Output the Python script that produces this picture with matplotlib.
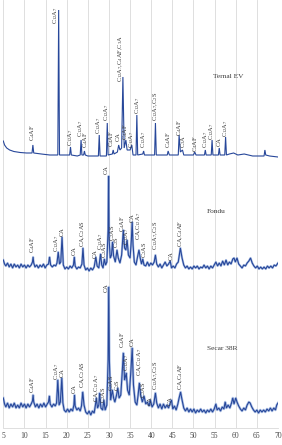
import matplotlib
matplotlib.use("Agg")
import matplotlib.pyplot as plt

plt.rcParams['font.family'] = ['Liberation Serif', 'DejaVu Serif']
plt.rcParams['mathtext.fontset'] = 'custom'
plt.rcParams['mathtext.rm'] = 'Liberation Serif'
plt.rcParams['mathtext.it'] = 'Liberation Serif:italic'

# ---- data: 2-theta (deg) and stacked signal depth (plot units, top = 0) ----
ternal_2t = [5.0, 5.3, 5.8, 6.5, 7.5, 9, 10.5, 11.8, 12.0, 12.2, 14, 16, 17.9, 18.1, 18.3, 20, 20.7, 20.9, 21.1,
             22.5, 23.2, 23.4, 23.6, 24.0, 24.2, 24.4, 25, 27.5, 27.7, 27.9, 29.4, 29.6, 29.8, 30.8,
             31.0, 31.2, 32.0, 32.3, 32.6, 33.0, 33.3, 33.6, 34.0, 34.3, 35.0, 35.4, 35.7, 36.4, 36.6,
             36.8, 38.0, 38.2, 38.4, 40.8, 41.0, 41.2, 43.8, 44.0, 44.3, 46.4, 46.6, 46.9, 47.4, 47.7,
             50.0, 50.3, 50.6, 52.6, 52.8, 53.0, 54.2, 54.4, 54.6, 55.9, 56.1, 56.3, 57.4, 57.6, 57.8,
             58.5, 59.5, 60.5, 62, 63, 64, 66.7, 66.9, 67.1, 68, 70]
ternal_y = [141, 145, 148, 150, 151.5, 152.5, 153, 153, 145, 153, 154, 155, 155, 10, 155, 155, 155, 147, 155,
            156, 155, 140, 155, 155, 151, 155, 156, 156, 135, 156, 156, 123, 155, 154,
            150, 154, 152, 145, 150, 148, 77, 148, 140, 150, 150, 145, 155, 155, 115,
            155, 154, 151, 155, 155, 123, 155, 155, 151, 155, 155, 135, 152, 150, 155,
            155, 152, 155, 155, 150, 155, 155, 140, 155, 155, 148, 155, 155, 137, 155,
            154, 153, 155, 154, 155, 156, 156, 150, 155, 156, 157]

fondu_2t = [5.0, 5.3, 5.6, 6.0, 6.4, 6.8, 7.2, 7.6, 8.0, 8.4, 8.8, 9.2, 9.6, 10.0, 10.4, 10.8, 11.2,
            11.6, 11.9, 12.05, 12.2, 12.5, 12.9, 13.3, 13.7, 14.1, 14.5, 14.9, 15.3, 15.7, 15.95,
            16.2, 16.6, 17.0, 17.4, 17.7, 18.0, 18.3, 18.6, 18.9, 19.2, 19.6, 20.0, 20.4, 20.8,
            21.2, 21.6, 21.8, 22.0, 22.4, 22.8, 23.2, 23.6, 23.85, 24.1, 24.5, 24.9, 25.3, 25.7,
            26.1, 26.5, 26.9, 27.2, 27.6, 28.0, 28.3, 28.6, 28.9, 29.2, 29.5, 29.8, 29.92, 30.05,
            30.3, 30.6, 30.85, 31.1, 31.5, 31.9, 32.2, 32.6, 33.0, 33.4, 33.7, 34.0, 34.3, 34.6,
            35.0, 35.3, 35.5, 35.7, 36.0, 36.4, 36.8, 37.1, 37.4, 37.7, 38.0, 38.3, 38.7, 39.1,
            39.5, 39.9, 40.3, 40.7, 41.0, 41.3, 41.7, 42.1, 42.5, 42.9, 43.3, 43.7, 44.1, 44.5,
            44.8, 45.2, 45.6, 46.0, 46.4, 46.9, 47.3, 47.7, 48.1, 48.5, 48.9, 49.3, 49.7, 50.1,
            50.5, 50.9, 51.3, 51.7, 52.1, 52.5, 52.9, 53.3, 53.7, 54.1, 54.5, 54.9, 55.3, 55.7,
            56.1, 56.5, 56.9, 57.3, 57.7, 58.1, 58.5, 58.9, 59.3, 59.6, 59.9, 60.3, 60.7, 61.1,
            61.5, 61.9, 62.3, 62.7, 63.1, 63.5, 63.9, 64.3, 64.7, 65.1, 65.5, 65.9, 66.3, 66.7,
            67.1, 67.5, 67.9, 68.3, 68.7, 69.1, 69.5, 70.0]
fondu_y = [260, 264, 266, 263, 267, 264, 268, 264, 267, 265, 268, 264, 267, 265, 268, 265, 267,
           265, 262, 257, 263, 267, 265, 268, 265, 267, 264, 268, 265, 264, 257,
           265, 267, 265, 266, 263, 252, 264, 262, 237, 265, 269, 267, 269, 266,
           268, 265, 257, 266, 269, 267, 268, 264, 248, 265, 270, 268, 271, 268,
           270, 267, 257, 266, 268, 254, 265, 268, 259, 265, 262, 230, 176, 240,
           258, 255, 242, 256, 262, 250, 258, 263, 255, 230, 248, 250, 240, 255,
           258, 240, 222, 245, 262, 265, 256, 250, 258, 264, 259, 265, 266, 262,
           266, 263, 265, 262, 255, 264, 267, 264, 268, 265, 262, 266, 264, 261,
           268, 266, 268, 264, 262, 248, 258, 265, 268, 266, 269, 267, 269, 266,
           268, 266, 269, 267, 268, 265, 268, 266, 269, 266, 268, 265, 262, 266,
           263, 266, 261, 265, 260, 265, 262, 264, 259, 258, 262, 258, 264, 266,
           268, 265, 266, 263, 261, 258, 263, 266, 268, 266, 269, 267, 269, 267,
           269, 266, 268, 266, 268, 265, 266, 263]

secar_2t = [5.0, 5.3, 5.6, 6.0, 6.4, 6.8, 7.2, 7.6, 8.0, 8.4, 8.8, 9.2, 9.6, 10.0, 10.4, 10.8, 11.2,
            11.6, 11.9, 12.05, 12.2, 12.6, 13.0, 13.4, 13.8, 14.2, 14.6, 15.0, 15.4, 15.7, 15.9,
            16.1, 16.5, 16.9, 17.3, 17.6, 17.9, 18.2, 18.5, 18.85, 19.1, 19.4, 19.8, 20.2, 20.6,
            21.0, 21.4, 21.7, 21.85, 22.0, 22.4, 22.8, 23.2, 23.5, 23.8, 24.1, 24.5, 24.9, 25.3,
            25.7, 26.1, 26.5, 26.8, 27.0, 27.3, 27.6, 27.8, 28.1, 28.5, 28.8, 29.1, 29.5, 29.8,
            29.95, 30.1, 30.4, 30.8, 31.1, 31.4, 31.8, 32.1, 32.4, 32.8, 33.1, 33.4, 33.7, 34.1,
            34.4, 34.8, 35.2, 35.5, 35.8, 36.2, 36.6, 36.9, 37.2, 37.5, 37.9, 38.3, 38.7, 39.1,
            39.5, 39.8, 40.2, 40.6, 41.0, 41.3, 41.7, 42.1, 42.5, 42.9, 43.3, 43.7, 44.1, 44.5,
            44.8, 45.1, 45.5, 45.9, 46.3, 46.6, 46.95, 47.3, 47.7, 48.1, 48.5, 48.9, 49.3, 49.7,
            50.1, 50.5, 50.9, 51.3, 51.7, 52.1, 52.5, 52.9, 53.3, 53.7, 54.1, 54.5, 54.9, 55.3,
            55.6, 56.0, 56.4, 56.8, 57.2, 57.5, 57.8, 58.2, 58.6, 59.0, 59.3, 59.6, 60.0, 60.3,
            60.7, 61.1, 61.5, 61.9, 62.3, 62.7, 63.1, 63.4, 63.8, 64.2, 64.6, 65.0, 65.4, 65.8,
            66.2, 66.6, 67.0, 67.4, 67.8, 68.2, 68.6, 69.0, 69.4, 69.7, 70.0]
secar_y = [398, 404, 407, 403, 408, 404, 407, 403, 408, 405, 408, 403, 407, 404, 408, 404, 407,
           404, 401, 395, 402, 407, 404, 408, 404, 407, 403, 407, 404, 402, 396,
           404, 407, 404, 406, 403, 380, 405, 402, 378, 403, 410, 412, 409, 412,
           409, 411, 405, 395, 406, 410, 408, 411, 406, 392, 405, 412, 414, 411,
           415, 411, 413, 405, 398, 408, 405, 393, 408, 410, 400, 410, 405, 360,
           287, 360, 400, 390, 398, 402, 395, 388, 398, 395, 375, 353, 380, 373,
           390, 395, 370, 348, 385, 402, 405, 395, 383, 395, 402, 396, 404, 402,
           406, 400, 407, 404, 393, 403, 408, 404, 409, 404, 408, 405, 408, 403,
           400, 409, 406, 410, 404, 398, 392, 400, 408, 411, 408, 412, 409, 412,
           409, 413, 410, 412, 409, 412, 410, 413, 410, 412, 409, 412, 409, 404,
           410, 408, 411, 407, 409, 402, 408, 405, 408, 403, 398, 404, 398, 402,
           406, 409, 411, 408, 410, 405, 402, 403, 407, 410, 412, 410, 413, 410,
           412, 410, 412, 409, 411, 408, 411, 408, 410, 405, 403]

C12A7 = r'C$_{12}$A$_7$'
C4AF = r'C$_4$AF'
C2AS = r'C$_2$AS'

ternal_lbl = [C4AF, C12A7, C12A7, C12A7, C4AF, C12A7, C12A7, C4AF, 'CA',
              r'C$_{12}$A$_7$,C$_4$AF,C$_3$A', C4AF, C12A7, C12A7, C12A7,
              r'C$_{12}$A$_7$,C$_2$S', C4AF, C4AF, r'C$_3$A', C4AF, C12A7, C12A7, 'CA', C12A7]
ternal_lx = [12.0, 17.4, 20.9, 23.2, 24.4, 27.6, 29.4, 30.7, 32.1, 32.8, 34.0, 35.4, 36.7, 38.1,
             41.0, 44.0, 46.6, 47.6, 50.4, 52.8, 54.2, 56.0, 57.7]
ternal_ly = [141, 24, 146, 137, 148, 134, 121, 147, 141, 82, 140, 148, 114, 148,
             121, 148, 136, 148, 152, 148, 140, 146, 137]

fondu_lbl = [C4AF, C12A7, 'CA', 'CA', r'CA,C$_2$AS', 'CA', C12A7, C2AS, 'CA', C2AS, r'C$_2$S',
             C4AF, C12A7, 'CA', r'CA,C$_{12}$A$_7$', C2AS, r'C$_{12}$A$_7$,C$_2$S', 'CA', r'CA,C$_4$AF']
fondu_lx = [12.0, 17.7, 18.9, 21.8, 23.8, 26.8, 27.9, 28.9, 29.4, 30.8, 31.9,
            33.2, 34.2, 35.5, 37.1, 38.4, 41.0, 44.7, 46.9]
fondu_ly = [253, 252, 236, 255, 247, 258, 250, 258, 174, 241, 248,
            232, 245, 222, 240, 258, 250, 260, 247]

secar_lbl = [C4AF, C12A7, 'CA', 'CA', r'CA,C$_2$AS', r'CA,C$_{12}$A$_7$', C2AS, 'CA', C2AS,
             r'C$_2$S', C4AF, C12A7, 'CA', r'CA,C$_{12}$A$_7$', C2AS, 'CA', r'C$_{12}$A$_7$,C$_2$S',
             'CA', r'CA,C$_4$AF']
secar_lx = [12.0, 17.7, 19.0, 21.8, 23.8, 27.0, 28.8, 29.4, 30.6, 32.0, 33.1, 34.1, 35.5,
            37.2, 38.3, 39.7, 41.0, 44.6, 46.9]
secar_ly = [393, 380, 377, 393, 388, 402, 403, 292, 391, 391, 348, 371, 346,
            376, 398, 405, 390, 405, 390]

names = ['Ternal EV', 'Fondu', 'Secar 38R']
name_x = [58.2, 55.4, 56.8]
name_y = [76, 211, 349]
xticks = [5, 10, 15, 20, 25, 30, 35, 40, 45, 50, 55, 60, 65, 70]

# ---- figure ----
fig = plt.figure(figsize=(2.82, 4.45), dpi=100)
ax = fig.add_axes([3.3 / 282, 17 / 445, 274.7 / 282, 428 / 445])
ax.set_xlim(5, 70)
ax.set_ylim(428, 0)

for xt in xticks:
    ax.axvline(xt, color='#d9d9d9', lw=0.6, zorder=0)

line_c = '#27479a'
halo_c = '#8aa6da'
for xs, ys, halo in [(ternal_2t, ternal_y, 0.0), (fondu_2t, fondu_y, 1.6), (secar_2t, secar_y, 1.8)]:
    if halo > 0:
        ax.plot(xs, ys, color=halo_c, lw=halo, alpha=0.7, zorder=2, solid_joinstyle='round')
    ax.plot(xs, ys, color=line_c, lw=0.8, zorder=3, solid_joinstyle='miter')

for lbls, lx, ly in [(ternal_lbl, ternal_lx, ternal_ly), (fondu_lbl, fondu_lx, fondu_ly),
                     (secar_lbl, secar_lx, secar_ly)]:
    for t, x, y in zip(lbls, lx, ly):
        ax.text(x, y, t, rotation=90, ha='center', va='bottom', fontsize=4.6,
                color='#3a3a3a', zorder=4)

for n, x, y in zip(names, name_x, name_y):
    ax.text(x, y, n, ha='center', va='center', fontsize=5.3, color='#3a3a3a')

ax.set_xticks(xticks)
ax.set_xticklabels([str(v) for v in xticks], fontsize=5.5, color='#4a4a4a')
ax.tick_params(axis='x', length=0, pad=3)
ax.set_yticks([])
for s in ['top', 'right', 'left']:
    ax.spines[s].set_visible(False)
ax.spines['bottom'].set_color('#d9d9d9')
ax.spines['bottom'].set_linewidth(0.6)

fig.savefig('out.png', dpi=100)
